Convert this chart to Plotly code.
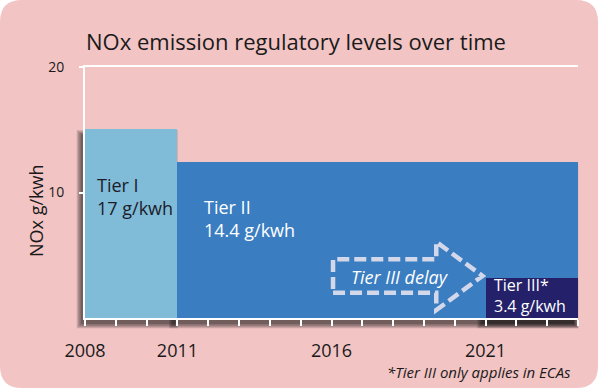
import plotly.graph_objects as go

# ---- data ----
tiers = ["Tier I", "Tier II", "Tier III*"]
start_year = [2008, 2011, 2021]
end_year = [2011, 2024, 2024]
bar_height = [15.1, 12.4, 3.2]
limit_text = ["17 g/kwh", "14.4 g/kwh", "3.4 g/kwh"]
year_ticks = [2008, 2011, 2016, 2021]
value_ticks = [10, 20]
delay_start, delay_head, delay_end = 2016.05, 2019.4, 2020.9

# ---- style ----
bar_colors = ["#80BBD8", "#3B7DC1", "#24216A"]
label_colors = ["#1c1c2a", "white", "white"]
label_sizes = [18, 18, 16]
label_xshift = [10, 25, 6]
label_y = [9.7, 7.9, 1.8]
PINK = "#F2C4C4"
FONT = "Open Sans"

W, H = 599, 389
L, R, T, B = 85, 21, 67, 71
PW, PH = W - L - R, H - T - B
XR, YR = [2008, 2024], [0, 20]


def xpx(v):
    return L + (v - XR[0]) / (XR[1] - XR[0]) * PW


def ypx(v):
    return T + (YR[1] - v) / (YR[1] - YR[0]) * PH


def xpap(p):
    return (p - L) / PW


def ypap(p):
    return (H - B - p) / PH


fig = go.Figure()

shapes = []
# rounded pink panel
r = 22
x0, x1, y0, y1 = 0, W - 1, 0, H - 1
path = (f"M {xpap(x0 + r)},{ypap(y0)} L {xpap(x1 - r)},{ypap(y0)} "
        f"Q {xpap(x1)},{ypap(y0)} {xpap(x1)},{ypap(y0 + r)} "
        f"L {xpap(x1)},{ypap(y1 - r)} Q {xpap(x1)},{ypap(y1)} {xpap(x1 - r)},{ypap(y1)} "
        f"L {xpap(x0 + r)},{ypap(y1)} Q {xpap(x0)},{ypap(y1)} {xpap(x0)},{ypap(y1 - r)} "
        f"L {xpap(x0)},{ypap(y0 + r)} Q {xpap(x0)},{ypap(y0)} {xpap(x0 + r)},{ypap(y0)} Z")
shapes.append(dict(type="path", xref="paper", yref="paper", path=path,
                   fillcolor=PINK, line=dict(width=0), layer="below"))

# soft drop shadows behind bars
for s, e, h in zip(start_year, end_year, bar_height):
    lx, rx = xpx(s) - 4, xpx(e) - 4
    ty, by = ypx(h) + 6, ypx(0) + 6
    for k in range(4):
        ex = 1.4 * k
        shapes.append(dict(type="rect", xref="paper", yref="paper",
                           x0=xpap(lx - ex), x1=xpap(rx + ex),
                           y0=ypap(by + ex), y1=ypap(ty - ex),
                           fillcolor="black", opacity=0.17, line=dict(width=0),
                           layer="below"))

# delay arrow (dashed outline)
yb0, yb1, yh0, yh1, ymid = 2.02, 4.68, 0.63, 6.07, 3.35
apath = (f"M {delay_start},{yb0} L {delay_head},{yb0} L {delay_head},{yh0} "
         f"L {delay_end},{ymid} L {delay_head},{yh1} L {delay_head},{yb1} "
         f"L {delay_start},{yb1} Z")
shapes.append(dict(type="path", xref="x", yref="y", path=apath,
                   line=dict(color="#D3D7EA", width=4.5, dash="12px,5px"),
                   fillcolor="rgba(0,0,0,0)", layer="above"))

for i in range(len(tiers)):
    fig.add_trace(go.Bar(
        x=[(start_year[i] + end_year[i]) / 2], y=[bar_height[i]],
        width=[end_year[i] - start_year[i]], name=tiers[i],
        marker=dict(color=bar_colors[i], line=dict(width=0)),
        hoverinfo="skip", showlegend=False))

annotations = []
for i in range(len(tiers)):
    annotations.append(dict(
        x=start_year[i], y=label_y[i], xref="x", yref="y", xanchor="left",
        yanchor="middle", xshift=label_xshift[i], showarrow=False, align="left",
        text=f"{tiers[i]}<br>{limit_text[i]}",
        font=dict(family=FONT, size=label_sizes[i], color=label_colors[i])))

annotations.append(dict(x=delay_start, y=3.25, xref="x", yref="y",
                        xanchor="left", xshift=16,
                        showarrow=False, text="<i>Tier III delay</i>",
                        font=dict(family=FONT, size=18, color="white")))
annotations.append(dict(x=xpap(573), y=ypap(372), xref="paper", yref="paper",
                        xanchor="right", yanchor="middle", showarrow=False,
                        text="<i>*Tier III only applies in ECAs</i>",
                        font=dict(family=FONT, size=15, color="#1a1a1a")))
annotations.append(dict(x=xpap(22), y=ypap(211), xref="paper", yref="paper",
                        textangle=-90, showarrow=False, text="NOx g/kwh",
                        font=dict(family=FONT, size=18, color="#1a1a1a")))

fig.update_layout(
    width=W, height=H,
    margin=dict(l=L, r=R, t=T, b=B, pad=0),
    paper_bgcolor="white", plot_bgcolor="rgba(0,0,0,0)",
    barmode="overlay", bargap=0,
    title=dict(text="NOx emission regulatory levels over time",
               x=296 / W, xanchor="center", y=1 - 42 / H, yanchor="middle",
               font=dict(family=FONT, size=22, color="#1a1a1a")),
    shapes=shapes, annotations=annotations,
    xaxis=dict(range=XR, tickvals=year_ticks, ticktext=[str(v) for v in year_ticks],
               showgrid=False, zeroline=False, showline=True, linecolor="white",
               linewidth=2, mirror=True, ticks="outside", ticklen=6, tickwidth=2,
               tickcolor="white", ticklabelstandoff=9,
               minor=dict(dtick=1, tick0=2008, ticks="outside", ticklen=6,
                          tickwidth=2, tickcolor="white", showgrid=False),
               tickfont=dict(family=FONT, size=18, color="#1a1a1a")),
    yaxis=dict(range=YR, tickvals=value_ticks, showgrid=False, zeroline=False,
               showline=True, linecolor="white", linewidth=2, ticks="outside",
               ticklen=4, tickwidth=2, tickcolor="white", ticklabelstandoff=12,
               tickfont=dict(family=FONT, size=14, color="#1a1a1a")),
)

fig.write_html("out.html", config={"displayModeBar": False},
               post_script="document.body.style.margin='0';document.body.style.padding='0';")
